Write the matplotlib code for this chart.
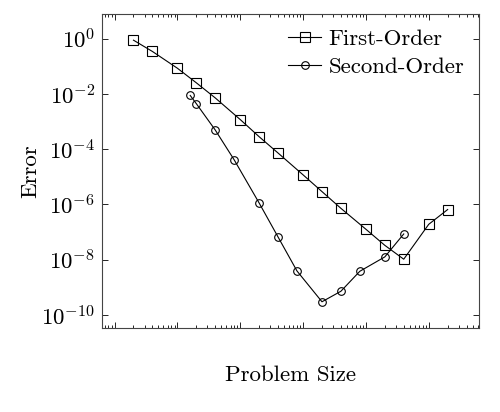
import numpy as np
import matplotlib
matplotlib.use('Agg')
import matplotlib.pyplot as plt
from matplotlib.ticker import FixedLocator, LogLocator, NullFormatter, LogFormatterSciNotation

plt.rcParams['font.family'] = 'serif'
plt.rcParams['font.serif'] = ['cmr10', 'DejaVu Serif']
plt.rcParams['mathtext.fontset'] = 'cm'
plt.rcParams['axes.formatter.use_mathtext'] = True

# data
first_x = [2, 4, 10, 20, 40, 100, 200, 400, 1e3, 2e3, 4e3, 1e4, 2e4, 4e4, 1e5, 2e5]
first_err = [0.87, 0.34, 0.084, 0.025, 7.1e-3, 1.17e-3, 2.8e-4, 7.2e-5, 1.17e-5,
             2.9e-6, 7.2e-7, 1.26e-7, 3.3e-8, 1.04e-8, 1.9e-7, 6.5e-7]
second_x = [16, 20, 40, 80, 200, 400, 800, 2e3, 4e3, 8e3, 2e4, 4e4]
second_err = [8.7e-3, 4.4e-3, 4.9e-4, 4.1e-5, 1.12e-6, 6.6e-8, 3.9e-9, 3.0e-10,
              7.2e-10, 3.8e-9, 1.26e-8, 8.5e-8]
y_ticks = [1e-10, 1e-8, 1e-6, 1e-4, 1e-2, 1e0]

fig = plt.figure(figsize=(5, 4.12), dpi=100)
ax = fig.add_axes([0.204, 0.204, 0.754, 0.762])

ax.plot(first_x, first_err, color='black', lw=0.8, marker='s', ms=6.5,
        mfc='none', mec='black', mew=0.8, label='First-Order')
ax.plot(second_x, second_err, color='black', lw=0.8, marker='o', ms=5.5,
        mfc='none', mec='black', mew=0.8, label='Second-Order')

ax.set_xscale('log')
ax.set_yscale('log')
ax.set_xlim(10 ** -0.2, 10 ** 5.8)
ax.set_ylim(10 ** -10.47, 10 ** 0.886)

ax.xaxis.set_major_locator(LogLocator(base=10, numticks=20))
ax.xaxis.set_minor_locator(LogLocator(base=10, subs=np.arange(2, 10), numticks=20))
ax.xaxis.set_major_formatter(NullFormatter())
ax.xaxis.set_minor_formatter(NullFormatter())
ax.yaxis.set_major_locator(FixedLocator(y_ticks))
ax.yaxis.set_major_formatter(LogFormatterSciNotation())
ax.yaxis.set_minor_locator(FixedLocator([]))

ax.tick_params(which='both', direction='in', top=True, right=True, width=0.6)
ax.tick_params(which='major', length=4, labelsize=16.5, pad=5)
ax.tick_params(which='minor', length=2)
for s in ax.spines.values():
    s.set_linewidth(0.8)
    s.set_color('#444444')

ax.set_xlabel('Problem Size', fontsize=16.5, labelpad=22)
ax.set_ylabel('Error', fontsize=16.5, labelpad=1)

ax.legend(loc='upper right', frameon=False, fontsize=16.5, handlelength=1.45,
          handletextpad=0.3, labelspacing=0.35, borderaxespad=0.25)

fig.savefig('out.png', dpi=100)
